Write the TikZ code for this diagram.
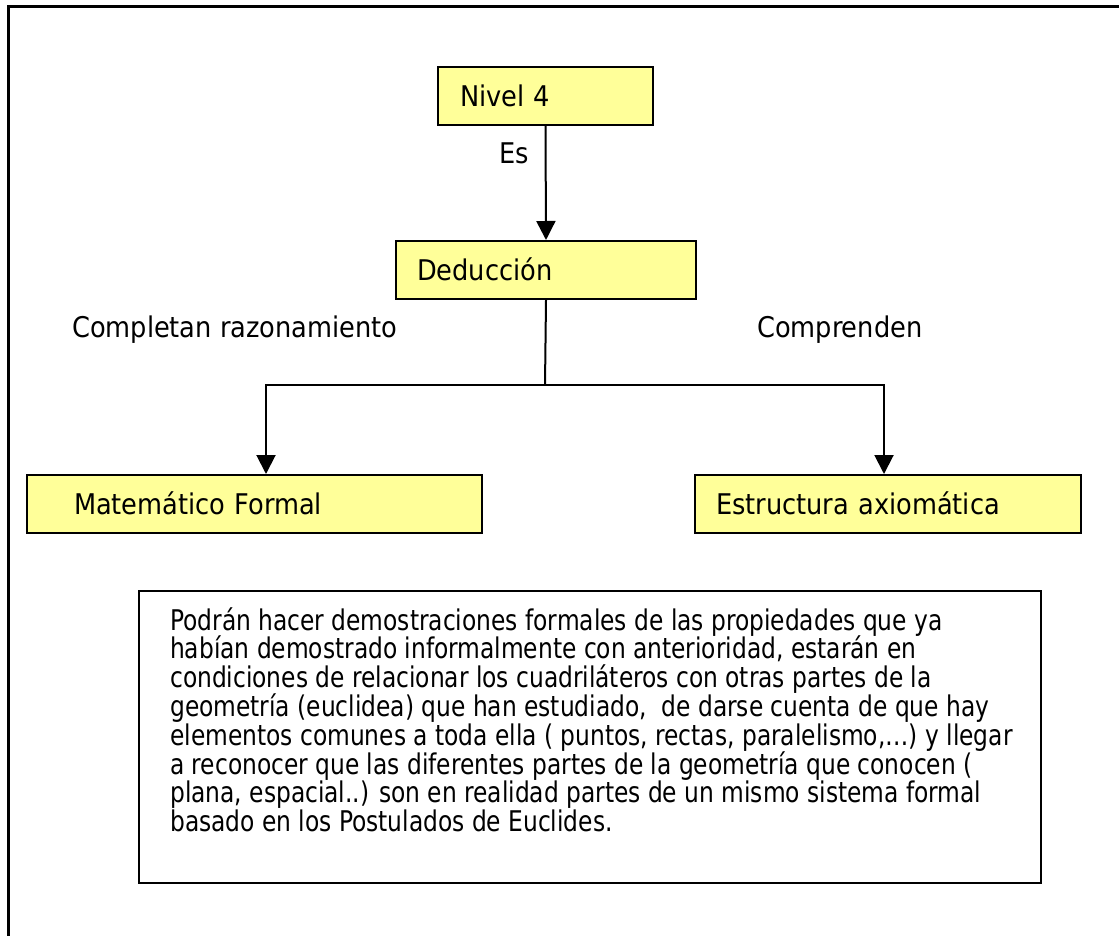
\documentclass[tikz,border=0pt]{standalone}
\usepackage{fontspec}
\setmainfont{DejaVu Sans Condensed}
\newfontfamily\parafont[FakeStretch=0.91]{DejaVu Sans Condensed}
\usetikzlibrary{arrows.meta,positioning}
\definecolor{boxyellow}{HTML}{FFFF99}
\begin{document}
\begin{tikzpicture}[x=1pt,y=-1pt,
  ybox/.style={draw=black,line width=2pt,fill=boxyellow,font=\fontsize{28.5}{32}\selectfont,
    align=left,inner ysep=0pt,minimum height=58pt,anchor=north west,text height=20.8pt,text depth=0pt},
  lbl/.style={font=\fontsize{28.5}{32}\selectfont,inner sep=0pt},
  conn/.style={line width=2pt,-{Triangle[width=19pt,length=19pt]}},
  plain/.style={line width=2pt}]
\useasboundingbox (0,0) rectangle (1119,936);
\fill[white] (0,0) rectangle (1119,936);
% outer frame (only left and top edges visible)
\coordinate (fbl) at (8.5,936);
\coordinate (ftl) at (8.5,6.5);
\coordinate (ftr) at (1119,6.5);
\draw[line width=3pt] (fbl) -- (ftl) -- (ftr);
% boxes
\node[ybox,inner xsep=22pt,text width=171pt] (n4) at (437,66) {Nivel 4};
\node[ybox,inner xsep=21pt,text width=258pt] (ded) at (395,240) {Deducción};
\node[ybox,inner xsep=47pt,text width=361pt] (mat) at (26,474) {Matemático Formal};
\node[ybox,inner xsep=21pt,text width=344pt] (est) at (694,474) {Estructura axiomática};
% labels
\node[lbl,anchor=base east] (es) at (529,164) {Es};
\node[lbl,anchor=base west] (comp) at (72,337) {Completan razonamiento};
\node[lbl,anchor=base west] (compr) at (757,337) {Comprenden};
% connectors
\draw[conn] (n4.south) -- (ded.north);
\coordinate (junc) at (545,385);
\coordinate (matin) at (266,474);
\coordinate (estin) at (884,474);
\draw[plain] (ded.south) -- (junc);
\draw[conn] (junc) -| (matin);
\draw[conn] (junc) -| (estin);
% paragraph box
\node[draw=black,line width=2pt,minimum width=902pt,minimum height=292pt,anchor=north west,inner sep=0pt] (para) at (138,590) {};
\node[anchor=north west,inner sep=0pt,align=left,font=\parafont\fontsize{28.5}{28.8}\selectfont] (paratext) at ([xshift=32pt,yshift=-17pt]para.north west)
{Podrán hacer demostraciones formales de las propiedades que ya\\
habían demostrado informalmente con anterioridad, estarán en\\
condiciones de relacionar los cuadriláteros con otras partes de la\\
geometría (euclidea) que han estudiado,\ \ de darse cuenta de que hay\\
elementos comunes a toda ella ( puntos, rectas, paralelismo,…) y llegar\\
a reconocer que las diferentes partes de la geometría que conocen (\\
plana, espacial..) son en realidad partes de un mismo sistema formal\\
basado en los Postulados de Euclides.};
\end{tikzpicture}
\end{document}
